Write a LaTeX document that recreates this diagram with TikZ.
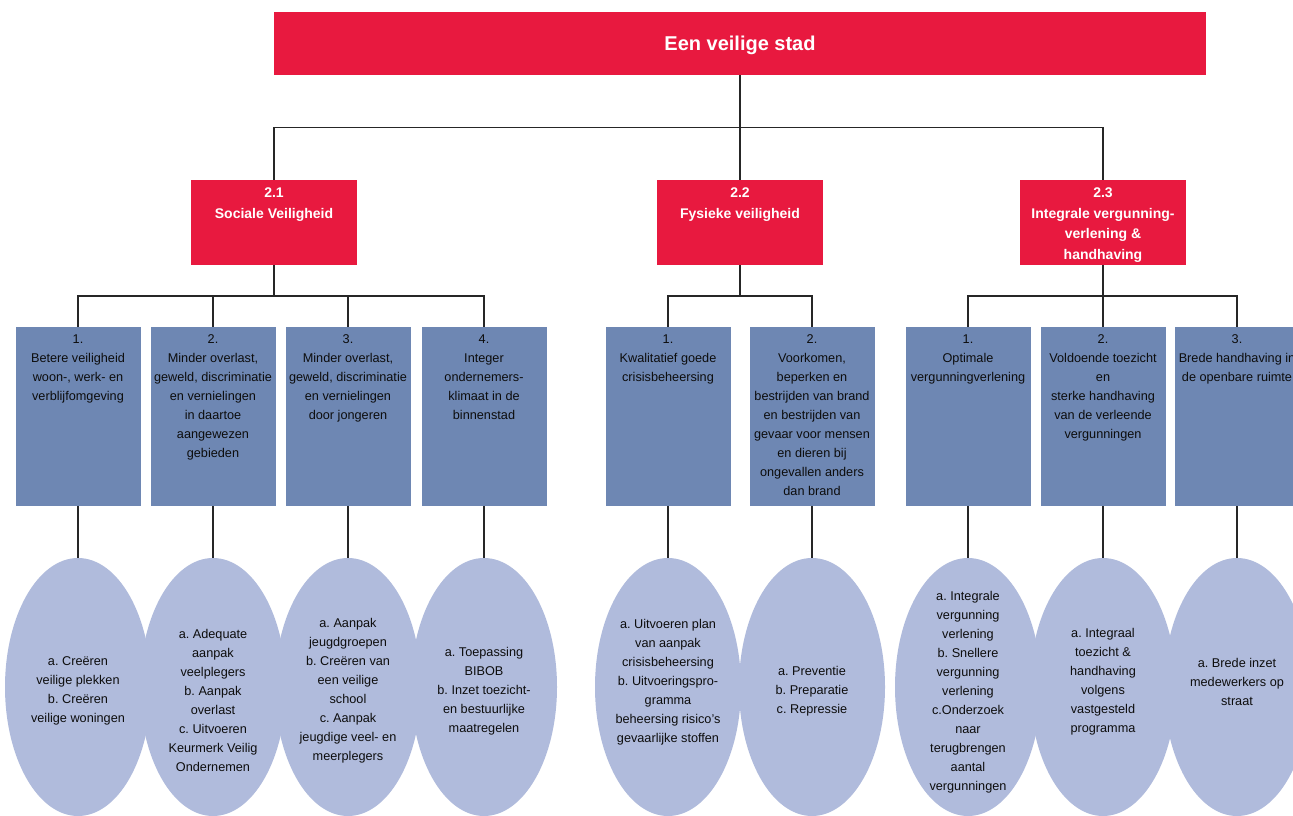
\documentclass[tikz,border=0pt]{standalone}
\usepackage{fontspec}
\setmainfont{Liberation Sans}
\usetikzlibrary{shapes.geometric}
\definecolor{rood}{HTML}{E8193F}
\definecolor{blauw}{HTML}{6E87B3}
\definecolor{lila}{HTML}{B0BBDC}
\frenchspacing
\begin{document}
\frenchspacing
\begin{tikzpicture}[x=1pt,y=-1pt,
  conn/.style={draw=black!85, line width=1.2pt},
  topbox/.style={fill=rood, draw=none, minimum width=932pt, minimum height=63pt, inner sep=0pt},
  toptext/.style={inner sep=0pt, text=white, font=\fontsize{20}{24}\selectfont\bfseries},
  redbox/.style={fill=rood, draw=none, minimum width=166pt, minimum height=85pt, inner sep=0pt},
  redtext/.style={anchor=north, align=center, inner sep=0pt, text=white, font=\fontsize{14}{20.5}\selectfont\bfseries},
  bluebox/.style={fill=blauw, draw=none, minimum width=125pt, minimum height=179pt, inner sep=0pt},
  bluetext/.style={anchor=north, align=center, inner sep=0pt, text=black!95, font=\fontsize{12.7}{19}\selectfont},
  ell/.style={ellipse, fill=lila, draw=none, minimum width=146pt, minimum height=258pt, inner sep=0pt},
  elltext/.style={align=center, inner sep=0pt, text=black!95, font=\fontsize{12.7}{19}\selectfont}]
\clip (0,0) rectangle (1293,816);
\fill[white] (0,0) rectangle (1293,816);

% top
\node[topbox] (top) at (740,43.5) {};
\node[toptext] (topt) at ([yshift=-2pt]top.center) {Een veilige stad};

% level 2
\node[redbox] (s1) at (274,222.5) {};
\node[redbox] (s2) at (740,222.5) {};
\node[redbox] (s3) at (1103,222.5) {};
\node[redtext] (s1t) at ([yshift=-8pt]s1.north) {2.1\\Sociale Veiligheid};
\node[redtext] (s2t) at ([yshift=-8pt]s2.north) {2.2\\Fysieke veiligheid};
\node[redtext] (s3t) at ([yshift=-8pt]s3.north) {2.3\\Integrale vergunning-\\verlening \&\\handhaving};

% level 3 boxes
\foreach \n/\x in {b11/78,b12/213,b13/348,b14/484,b21/668,b22/812,b31/968,b32/1103,b33/1237}{
  \node[bluebox] (\n) at (\x,416.5) {};
}
\node[bluetext] (b11t) at ([yshift=-7.5pt]b11.north) {1.\\Betere veiligheid\\woon-, werk- en\\verblijfomgeving};
\node[bluetext] (b12t) at ([yshift=-7.5pt]b12.north) {2.\\Minder overlast,\\geweld, discriminatie\\en vernielingen\\in daartoe\\aangewezen\\gebieden};
\node[bluetext] (b13t) at ([yshift=-7.5pt]b13.north) {3.\\Minder overlast,\\geweld, discriminatie\\en vernielingen\\door jongeren};
\node[bluetext] (b14t) at ([yshift=-7.5pt]b14.north) {4.\\Integer\\ondernemers-\\klimaat in de\\binnenstad};
\node[bluetext] (b21t) at ([yshift=-7.5pt]b21.north) {1.\\Kwalitatief goede\\crisisbeheersing};
\node[bluetext] (b22t) at ([yshift=-7.5pt]b22.north) {2.\\Voorkomen,\\beperken en\\bestrijden van brand\\en bestrijden van\\gevaar voor mensen\\en dieren bij\\ongevallen anders\\dan brand};
\node[bluetext] (b31t) at ([yshift=-7.5pt]b31.north) {1.\\Optimale\\vergunningverlening};
\node[bluetext] (b32t) at ([yshift=-7.5pt]b32.north) {2.\\Voldoende toezicht\\en\\sterke handhaving\\van de verleende\\vergunningen};
\node[bluetext] (b33t) at ([yshift=-7.5pt]b33.north) {3.\\Brede handhaving in\\de openbare ruimte};

% ellipses
\foreach \n/\x in {e11/78,e12/213,e13/348,e14/484,e21/668,e22/812,e31/968,e32/1103,e33/1237}{
  \node[ell] (\n) at (\x,687) {};
}
\node[elltext] (e11t) at (78,691) {a. Creëren\\veilige plekken\\b. Creëren\\veilige woningen};
\node[elltext] (e12t) at (213,700.5) {a. Adequate\\aanpak\\veelplegers\\b. Aanpak\\overlast\\c. Uitvoeren\\Keurmerk Veilig\\Ondernemen};
\node[elltext] (e13t) at (348,691) {a. Aanpak\\jeugdgroepen\\b. Creëren van\\een veilige\\school\\c. Aanpak\\jeugdige veel- en\\meerplegers};
\node[elltext] (e14t) at (484,691) {a. Toepassing\\BIBOB\\b. Inzet toezicht-\\en bestuurlijke\\maatregelen};
\node[elltext] (e21t) at (668,682.5) {a. Uitvoeren plan\\van aanpak\\crisisbeheersing\\b. Uitvoeringspro-\\gramma\\beheersing risico’s\\gevaarlijke stoffen};
\node[elltext] (e22t) at (812,691) {a. Preventie\\b. Preparatie\\c. Repressie};
\node[elltext] (e31t) at (968,692) {a. Integrale\\vergunning\\verlening\\b. Snellere\\vergunning\\verlening\\c.Onderzoek\\naar\\terugbrengen\\aantal\\vergunningen};
\node[elltext] (e32t) at (1103,681.5) {a. Integraal\\toezicht \&\\handhaving\\volgens\\vastgesteld\\programma};
\node[elltext] (e33t) at (1237,682) {a. Brede inzet\\medewerkers op\\straat};

% connectors top -> level 2
\coordinate (bus0) at (740,127.5);
\draw[conn] (top.south) -- (bus0);
\draw[conn] (s1.north) |- (bus0) -| (s3.north);
\draw[conn] (bus0) -- (s2.north);

% level 2 -> level 3
\coordinate (bus1) at (274,296);
\coordinate (bus2) at (740,296);
\coordinate (bus3) at (1103,296);
\draw[conn] (s1.south) -- (bus1);
\draw[conn] (b11.north) |- (bus1) -| (b14.north);
\draw[conn] (bus1 -| b12.north) -- (b12.north);
\draw[conn] (bus1 -| b13.north) -- (b13.north);
\draw[conn] (s2.south) -- (bus2);
\draw[conn] (b21.north) |- (bus2) -| (b22.north);
\draw[conn] (s3.south) -- (bus3);
\draw[conn] (b31.north) |- (bus3) -| (b33.north);
\draw[conn] (bus3 -| b32.north) -- (b32.north);

% level 3 -> ellipses
\foreach \b/\e in {b11/e11,b12/e12,b13/e13,b14/e14,b21/e21,b22/e22,b31/e31,b32/e32,b33/e33}{
  \draw[conn] (\b.south) -- (\e.north);
}
\end{tikzpicture}
\end{document}
